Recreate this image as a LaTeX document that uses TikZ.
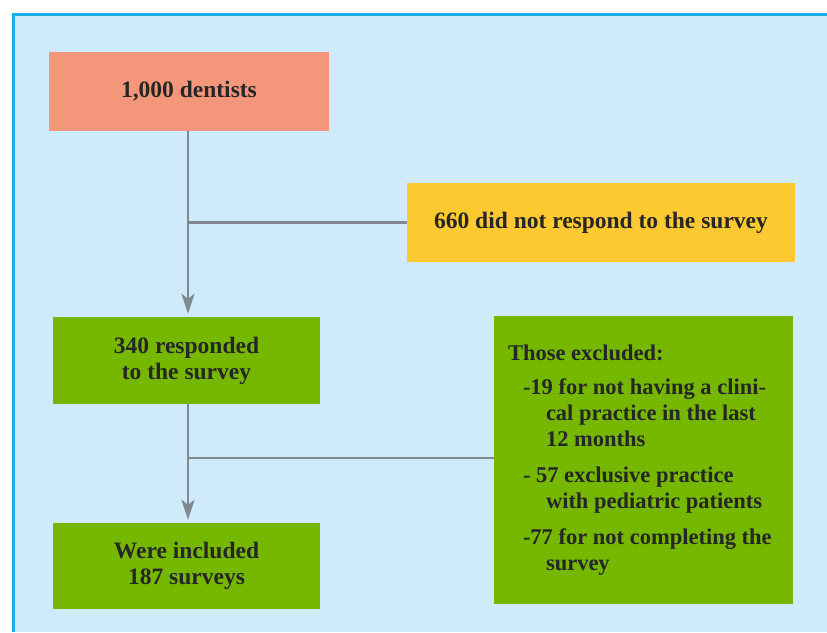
\documentclass[tikz,border=0pt]{standalone}
\usepackage{fontspec}
\setmainfont{Liberation Serif}
\usepackage{tikz}
\usetikzlibrary{positioning,arrows.meta}
\definecolor{frameclr}{HTML}{1AAFE6}
\definecolor{bgclr}{HTML}{CFEAFB}
\definecolor{startclr}{HTML}{F4967A}
\definecolor{dropclr}{HTML}{FCC930}
\definecolor{keepclr}{HTML}{76B800}
\definecolor{lineclr}{HTML}{808890}
\definecolor{txtclr}{HTML}{262626}
\newcommand{\exline}[2]{\makebox[285pt][l]{\hspace*{#1pt}#2}}
\tikzset{
  box/.style={fill=#1, text=txtclr, font=\bfseries\fontsize{23.5}{26}\selectfont,
    align=center, inner sep=0pt},
  conn/.style={draw=lineclr, line width=2.6pt},
  arr/.style={conn, -{Stealth[length=20pt,width=13pt,inset=5pt]}, shorten >=3pt}
}
\begin{document}
\begin{tikzpicture}[x=1pt,y=-1pt]
\useasboundingbox (0,0) rectangle (827,632);
\fill[white] (0,0) rectangle (827,632);
\fill[bgclr] (13,14) rectangle (827,632);
\draw[frameclr, line width=3pt] (13,632) -- (13,14) -- (827,14);

\node[box=startclr, minimum width=280, minimum height=79] (dentists) at (189,91.5) {1,000 dentists};
\node[box=dropclr, minimum width=388, minimum height=79] (nonresp) at (601,222.5) {660 did not respond to the survey};
\node[box=keepclr, minimum width=267, minimum height=87] (resp) at (186.5,360.5) {340 responded\\to the survey};
\node[box=keepclr, minimum width=267, minimum height=86] (incl) at (186.5,566) {Were included\\187 surveys};
\node[box=keepclr, minimum width=299, minimum height=288, align=left, inner xsep=7pt,
  font=\bfseries\fontsize{22.5}{26}\selectfont] (excl) at (643.5,460)
  {\exline{7}{Those excluded:}\\[8pt]
   \exline{22}{-19 for not having a clini-}\\
   \exline{45}{cal practice in the last}\\
   \exline{45}{12 months}\\[10pt]
   \exline{22}{- 57 exclusive practice}\\
   \exline{45}{with pediatric patients}\\[10pt]
   \exline{22}{-77 for not completing the}\\
   \exline{45}{survey}};

% flow
\draw[arr] (188,0 |- dentists.south) -- (188,0 |- resp.north);
\draw[conn] (nonresp.west) -- (nonresp.west -| 188,0);
\draw[arr] (188,0 |- resp.south) -- (188,0 |- incl.north);
\draw[conn] (excl.west |- 0,458) -- (188,458);
\end{tikzpicture}
\end{document}
